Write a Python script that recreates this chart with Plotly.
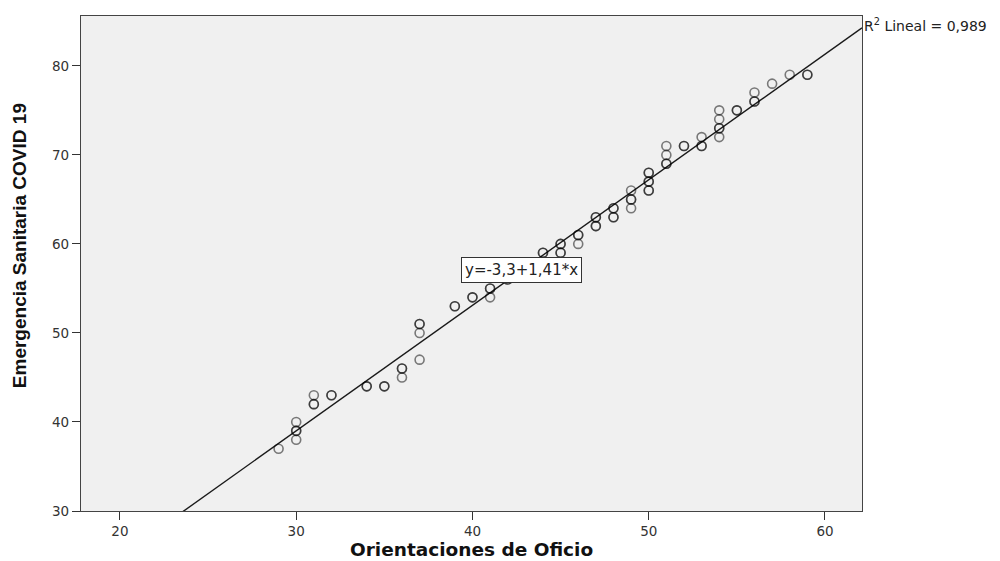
import numpy as np
import plotly.graph_objects as go

# Scores: Orientaciones de Oficio (x) vs Emergencia Sanitaria COVID 19 (y).
# Repeated pairs are listed more than once so overlapping circles render darker.
orientaciones = [
    29, 30, 30, 30, 30, 31, 31, 31, 32, 32, 34, 34, 35, 35, 36, 36, 36,
    37, 37, 37, 37, 39, 39, 40, 40, 41, 41, 41, 42, 42,
    44, 44, 45, 45, 45, 45, 46, 46, 46,
    47, 47, 47, 47, 48, 48, 48, 48, 49, 49, 49, 49, 50, 50, 50, 50, 50, 50,
    51, 51, 51, 51, 52, 52, 53, 53, 53,
    54, 54, 54, 54, 54, 55, 55, 56, 56, 56, 57, 58, 59, 59,
]
emergencia = [
    37, 40, 39, 39, 38, 43, 42, 42, 43, 43, 44, 44, 44, 44, 46, 46, 45,
    51, 51, 50, 47, 53, 53, 54, 54, 55, 55, 54, 56, 56,
    59, 59, 60, 60, 59, 59, 61, 61, 60,
    63, 63, 62, 62, 64, 64, 63, 63, 66, 65, 65, 64, 68, 68, 67, 67, 66, 66,
    71, 70, 69, 69, 71, 71, 72, 71, 71,
    75, 74, 73, 73, 72, 75, 75, 77, 76, 76, 78, 79, 79, 79,
]

# Linear fit reported for the sample
intercepto = -3.3
pendiente = 1.41
r2 = 0.989

x_range = [17.79, 62.1]
y_range = [30, 85.6]
x_ticks = [20, 30, 40, 50, 60]
y_ticks = [30, 40, 50, 60, 70, 80]

fit_x = np.array(x_range)
fit_y = intercepto + pendiente * fit_x

fig = go.Figure()

fig.add_trace(go.Scatter(
    x=fit_x, y=fit_y, mode="lines",
    line=dict(color="#1a1a1a", width=1.4),
    hoverinfo="skip", showlegend=False, cliponaxis=True,
))

fig.add_trace(go.Scatter(
    x=orientaciones, y=emergencia, mode="markers",
    marker=dict(symbol="circle-open", size=9,
                color="rgba(0,0,0,0.5)",
                line=dict(width=1.6, color="rgba(0,0,0,0.5)")),
    showlegend=False,
))

label_font = dict(family="DejaVu Sans, Verdana, sans-serif", size=13.5, color="#333333")

fig.update_layout(
    width=1000, height=561,
    margin=dict(l=81, r=138, t=16, b=50),
    paper_bgcolor="white",
    plot_bgcolor="#f0f0f0",
    xaxis=dict(
        range=x_range, tickvals=x_ticks, ticks="outside", ticklen=8,
        tickcolor="#333333", tickfont=label_font,
        showgrid=False, zeroline=False,
        showline=True, linecolor="#444444", linewidth=1.2, mirror=True,
    ),
    yaxis=dict(
        range=y_range, tickvals=y_ticks, ticks="outside", ticklen=8,
        tickcolor="#333333", tickfont=label_font,
        showgrid=False, zeroline=False,
        showline=True, linecolor="#444444", linewidth=1.2, mirror=True,
    ),
    annotations=[
        # Fit equation box placed on the line
        dict(x=42.8, y=intercepto + pendiente * 42.8, xref="x", yref="y",
             text="y=-3,3+1,41*x", showarrow=False,
             font=dict(family="DejaVu Sans, Verdana, sans-serif", size=15, color="#222222"),
             bgcolor="white", bordercolor="#333333", borderwidth=1, borderpad=3),
        # R² label at the right end of the fit line
        dict(x=1, y=fit_y[-1], xref="paper", yref="y",
             text="R<sup>2</sup> Lineal = 0,989", showarrow=False,
             xanchor="left", yanchor="middle", xshift=0, yshift=3,
             font=dict(family="DejaVu Sans, Verdana, sans-serif", size=14, color="#222222")),
        # Axis titles
        dict(x=0.5, y=0, xref="paper", yref="paper", yshift=-38,
             text="<b>Orientaciones de Oficio</b>", showarrow=False,
             xanchor="center", yanchor="middle",
             font=dict(family="DejaVu Sans, Verdana, sans-serif", size=18.5, color="#111111")),
        dict(x=0, y=0.535, xref="paper", yref="paper", xshift=-62,
             text="<b>Emergencia Sanitaria COVID 19</b>", showarrow=False,
             textangle=-90, xanchor="center", yanchor="middle",
             font=dict(family="Liberation Sans, Arial, sans-serif",
                       size=19, color="#111111")),
    ],
)

fig.write_html("out.html")
